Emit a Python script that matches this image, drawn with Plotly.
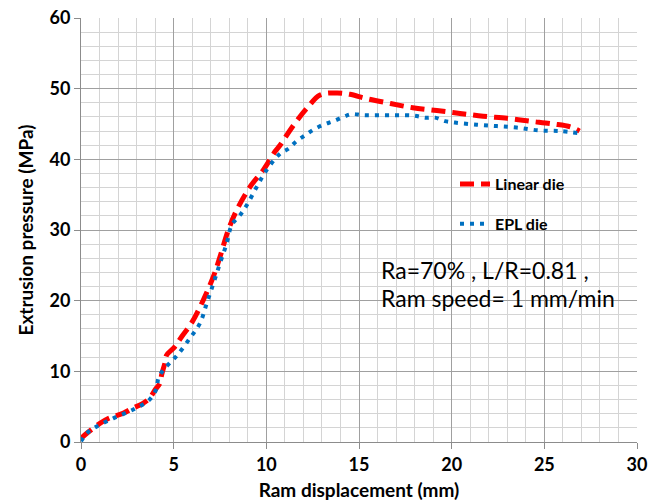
import plotly.graph_objects as go

# Linear die (red dashed)
linear_x = [0, 0.3, 1.0, 1.5, 2.3, 2.8, 3.3, 3.7, 4.0, 4.26, 4.35, 4.53, 4.62, 5.07, 5.43, 6.0, 6.6,
            7.14, 7.5, 7.95, 8.4, 9.12, 9.84, 10.47, 10.74, 11.46, 12.18, 12.9, 13.8, 14.5, 15.4,
            16.7, 17.9, 19.2, 20.45, 21.7, 23.0, 24.2, 25.5, 26.4, 26.9]
linear_y = [0.5, 1.2, 2.6, 3.35, 4.1, 4.8, 5.4, 6.2, 7.4, 8.3, 9.5, 11.2, 12.3, 13.5, 14.9, 17.0, 20.1,
            23.4, 26.2, 30.0, 32.8, 36.1, 38.5, 41.1, 42.0, 44.8, 47.2, 49.1, 49.4, 49.2, 48.6,
            47.9, 47.3, 46.9, 46.5, 46.1, 45.8, 45.4, 45.0, 44.6, 44.0]

# EPL die (blue dotted)
epl_x = [0, 0.3, 0.85, 1.74, 2.82, 3.7, 4.08, 4.17, 4.44, 4.8, 5.2, 5.88, 6.42, 6.78, 7.14, 7.5,
         7.86, 8.13, 8.58, 8.94, 9.48, 10.02, 10.74, 11.19, 11.64, 12.09, 12.54, 13.08, 13.62,
         14.16, 14.6, 15.24, 16.85, 17.93, 18.56, 19.1, 19.64, 20.18, 21.35, 22.43, 23.5, 24.68,
         25.85, 26.9]
epl_y = [0.1, 1.2, 2.2, 3.35, 4.6, 6.0, 7.6, 9.0, 10.2, 11.2, 12.3, 14.7, 16.8, 19.6, 22.4, 25.3,
         28.1, 30.7, 32.1, 33.5, 36.1, 38.5, 40.8, 41.5, 42.6, 43.4, 44.2, 44.9, 45.4,
         46.0, 46.4, 46.25, 46.25, 46.2, 45.9, 45.9, 45.4, 45.2, 44.9, 44.7, 44.5, 44.1,
         44.0, 43.7]

x_ticks = [0, 5, 10, 15, 20, 25, 30]
y_ticks = [0, 10, 20, 30, 40, 50, 60]

FONT = "Lato"

fig = go.Figure()
fig.add_trace(go.Scatter(x=linear_x, y=linear_y, mode="lines", name="Linear die",
                         legendgroup="a",
                         line=dict(color="#FF0000", width=5, dash="14px,7px", shape="spline")))
fig.add_trace(go.Scatter(x=epl_x, y=epl_y, mode="lines", name="EPL die",
                         legendgroup="b",
                         line=dict(color="#0070C0", width=4, dash="4px,6px", shape="spline")))

fig.add_annotation(xref="paper", yref="paper", x=(379 - 81) / 556, y=(442 - 270) / 424,
                   xanchor="left", yanchor="middle", showarrow=False, align="left",
                   text="Ra=70% , L/R=0.81 ,", font=dict(family=FONT, size=23, color="#000"))
fig.add_annotation(xref="paper", yref="paper", x=(379 - 81) / 556, y=(442 - 298) / 424,
                   xanchor="left", yanchor="middle", showarrow=False, align="left",
                   text="Ram speed= 1 mm/min", font=dict(family=FONT, size=23, color="#000"))

axis_common = dict(
    showline=True, linecolor="#8c8c8c", linewidth=1,
    ticks="outside", ticklen=6, tickcolor="#8c8c8c", tickwidth=1,
    showgrid=True, gridcolor="#a0a0a0", gridwidth=1,
    zeroline=False, automargin=False,
    tickfont=dict(family=FONT, size=18, color="#000", weight="bold"),
)

fig.update_layout(
    width=660, height=503,
    margin=dict(l=81, r=23, t=18, b=61, autoexpand=False),
    paper_bgcolor="white", plot_bgcolor="white",
    showlegend=True,
    legend=dict(x=(455 - 81) / 556, y=(442 - 167) / 424, xanchor="left", yanchor="top",
                bgcolor="rgba(0,0,0,0)", traceorder="grouped", tracegroupgap=16,
                font=dict(family=FONT, size=16, color="#000", weight="bold")),
    xaxis=dict(range=[0, 30], tickvals=x_ticks, ticktext=[str(v) for v in x_ticks],
               minor=dict(dtick=1, showgrid=True, gridcolor="#d4d4d4", gridwidth=1),
               title=dict(text="Ram displacement (mm)", standoff=10,
                          font=dict(family=FONT, size=19, color="#000", weight="bold")),
               **axis_common),
    yaxis=dict(range=[0, 60], tickvals=y_ticks, ticktext=[str(v) for v in y_ticks],
               minor=dict(dtick=2, showgrid=True, gridcolor="#d4d4d4", gridwidth=1),
               title=dict(text="Extrusion pressure (MPa)", standoff=10,
                          font=dict(family=FONT, size=19, color="#000", weight="bold")),
               **axis_common),
)

fig.write_html("out.html", config={"displayModeBar": False},
               post_script="document.body.style.margin='0';")
